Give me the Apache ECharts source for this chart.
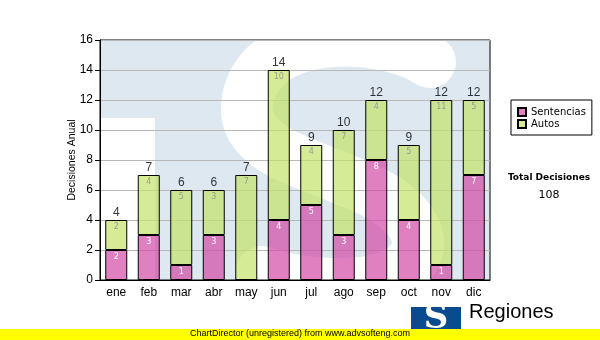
<!DOCTYPE html>
<html>
<head>
<meta charset="utf-8">
<script src="https://cdn.jsdelivr.net/npm/echarts@6/dist/echarts.min.js"></script>
<style>
html,body{margin:0;padding:0;background:#fff;}
#chart{width:600px;height:340px;}
</style>
</head>
<body>
<div id="chart"></div>
<script>
var categories = ['ene','feb','mar','abr','may','jun','jul','ago','sep','oct','nov','dic'];
var sentencias = [2,3,1,3,0,4,5,3,8,4,1,7];
var autos = [2,4,5,3,7,10,4,7,4,5,11,5];
var yTicks = [0,2,4,6,8,10,12,14,16];
var totalLabel = 'Total Decisiones';

var totals = categories.map(function(c,i){ return sentencias[i] + autos[i]; });
var grandTotal = totals.reduce(function(a,b){ return a+b; }, 0);

var chart = echarts.init(document.getElementById('chart'), null, {renderer:'canvas'});
var FONT = 'Liberation Sans, Arial, sans-serif';
var VFONT = 'DejaVu Sans, Verdana, sans-serif';

function curve(x1,y1,c1x,c1y,c2x,c2y,x2,y2){
  return {type: 'bezierCurve', z: -19, silent: true,
    shape: {x1:x1,y1:y1,cpx1:c1x,cpy1:c1y,cpx2:c2x,cpy2:c2y,x2:x2,y2:y2},
    style: {fill: null, stroke: '#ffffff', lineWidth: 52, lineCap: 'round'}};
}

var option = {
  animation: false,
  backgroundColor: '#ffffff',
  grid: {left: 100, top: 40, right: 110, bottom: 60, show: true, borderColor: '#000', borderWidth: 1, backgroundColor: 'transparent'},
  legend: {
    data: ['Sentencias','Autos'],
    orient: 'vertical', left: 511, top: 100,
    itemWidth: 8, itemHeight: 8, itemGap: 2,
    borderColor: '#000', borderWidth: 1, padding: [7,6,6,6],
    textStyle: {fontFamily: VFONT, fontSize: 10, color: '#000'},
    icon: 'rect'
  },
  xAxis: {
    type: 'category', data: categories,
    axisLine: {lineStyle: {color: '#000', width: 1}},
    axisTick: {alignWithLabel: true, length: 4, lineStyle: {color: '#000'}},
    axisLabel: {color: '#000', fontFamily: FONT, fontSize: 12, margin: 7}
  },
  yAxis: {
    type: 'value', min: 0, max: 16, interval: 2,
    name: 'Decisiones Anual', nameLocation: 'middle', nameGap: 22, nameMoveOverlap: false,
    nameTextStyle: {fontFamily: FONT, fontSize: 10.5, color: '#000'},
    axisLine: {show: true, lineStyle: {color: '#000', width: 1}},
    axisTick: {show: true, length: 5, lineStyle: {color: '#000'}},
    axisLabel: {color: '#000', fontFamily: FONT, fontSize: 12, margin: 7,
      formatter: function(v){ return yTicks.indexOf(v) >= 0 ? String(v) : ''; }},
    splitLine: {lineStyle: {color: '#b8b8b8', width: 1}}
  },
  series: [
    {
      name: 'Sentencias', type: 'bar', stack: 'd', data: sentencias, barWidth: 22,
      itemStyle: {color: 'rgba(211,74,165,0.7)', borderColor: '#000', borderWidth: 1},
      label: {show: true, position: 'insideTop', distance: 3, color: '#fff', fontFamily: VFONT, fontSize: 8,
        formatter: function(p){ return p.value ? String(p.value) : ''; }},
      z: 3
    },
    {
      name: 'Autos', type: 'bar', stack: 'd', data: autos, barWidth: 22,
      itemStyle: {color: 'rgba(195,226,105,0.7)', borderColor: '#000', borderWidth: 1},
      label: {show: true, position: 'insideTop', distance: 3, color: '#999', fontFamily: VFONT, fontSize: 8,
        formatter: function(p){ return p.value ? String(p.value) : ''; }},
      z: 3
    },
    {
      name: 'Total', type: 'scatter', data: totals, symbolSize: 0, silent: true,
      label: {show: true, position: 'top', distance: 1, color: '#000', fontFamily: FONT, fontSize: 12,
        formatter: function(p){ return String(p.value); }},
      z: 4
    }
  ],
  graphic: [
    {type: 'rect', z: -20, silent: true, shape: {x: 100, y: 40, width: 390, height: 240}, style: {fill: '#dee8f1'}},
    {type: 'rect', z: -19, silent: true, shape: {x: 100, y: 118, width: 55, height: 162}, style: {fill: '#ffffff'}},
    curve(430,62, 380,30, 262,28, 248,98),
    curve(248,98, 238,148, 300,160, 350,182),
    curve(350,182, 420,208, 432,248, 404,268),
    curve(404,268, 370,292, 300,286, 262,272),
    {type: 'rect', z: -18, silent: true, shape: {x: 0, y: 0, width: 600, height: 40}, style: {fill: '#ffffff'}},
    {type: 'rect', z: -18, silent: true, shape: {x: 490, y: 0, width: 110, height: 340}, style: {fill: '#ffffff'}},
    {type: 'rect', z: -18, silent: true, shape: {x: 0, y: 280, width: 600, height: 60}, style: {fill: '#ffffff'}},
    {type: 'text', z: 10, style: {x: 549, y: 173, text: totalLabel, align: 'center', fontFamily: VFONT, fontWeight: 'bold', fontSize: 9, fill: '#000'}},
    {type: 'text', z: 10, style: {x: 549, y: 190, text: String(grandTotal), align: 'center', fontFamily: VFONT, fontSize: 11, fill: '#000'}},
    {type: 'rect', z: 10, shape: {x: 411, y: 307, width: 50, height: 33}, style: {fill: '#0a4a8e'}},
    {type: 'text', z: 11, style: {x: 436, y: 302, text: 'S', align: 'center', fontFamily: 'DejaVu Serif, serif', fontWeight: 'bold', fontSize: 34, fill: '#ffffff'}},
    {type: 'text', z: 10, left: 469, top: 302, style: {text: 'Regiones', fontFamily: FONT, fontSize: 20, fill: '#000'}},
    {type: 'rect', z: 20, shape: {x: 0, y: 329, width: 600, height: 11}, style: {fill: '#ffff00'}},
    {type: 'text', z: 21, left: 190, top: 329, style: {text: 'ChartDirector (unregistered) from www.advsofteng.com', fontFamily: FONT, fontSize: 9, fill: '#000'}}
  ]
};
chart.setOption(option);
</script>
</body>
</html>
